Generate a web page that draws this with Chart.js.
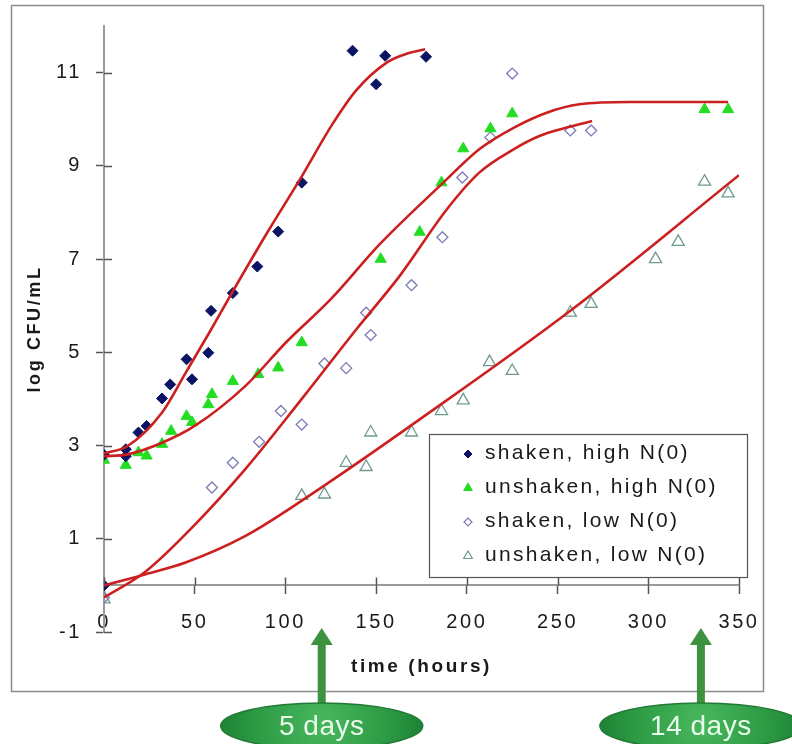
<!DOCTYPE html>
<html>
<head>
<meta charset="utf-8">
<script src="https://cdn.jsdelivr.net/npm/chart.js@4.4.1/dist/chart.umd.min.js"></script>
<style>
  html, body { margin: 0; padding: 0; background: #fff; }
  #myChart { display: block; }
</style>
</head>
<body>
<canvas id="myChart" width="792" height="744"></canvas>
<script>
// measured points, [hours, log CFU/mL]
var shakenHigh = [[0,0],[0,2.8],[12,2.92],[12,2.77],[19,3.28],[23.5,3.42],[32,4.01],[36.5,4.31],[45.5,4.85],[48.5,4.42],[57.5,4.99],[59,5.89],[71,6.27],[84.5,6.84],[96,7.59],[109,8.64],[137,11.47],[150,10.75],[155,11.36],[177.5,11.34]];
var unshakenHigh = [[0,2.69],[12,2.58],[19,2.85],[23.5,2.78],[32,3.03],[37,3.31],[45.5,3.63],[48.5,3.5],[57.5,3.88],[59.5,4.1],[71,4.38],[85,4.53],[96,4.67],[109,5.21],[152.5,7.0],[174,7.58],[186,8.64],[198,9.37],[213,9.8],[225,10.12],[331,10.21],[344,10.21]];
var shakenLow = [[0,-0.26],[59.5,2.1],[71,2.63],[85.5,3.08],[97.5,3.74],[109,3.45],[121.5,4.76],[133.5,4.66],[144.5,5.85],[147,5.37],[169.5,6.44],[186.5,7.47],[197.5,8.75],[213,9.61],[225,10.98],[257,9.76],[268.5,9.76]];
var unshakenLow = [[0,-0.3],[109,1.92],[121.5,1.95],[133.5,2.63],[144.5,2.54],[147,3.28],[169.5,3.28],[186,3.74],[198,3.97],[212.5,4.79],[225,4.6],[257,5.85],[268.5,6.04],[304,7.0],[316.5,7.37],[331,8.66],[344,8.41]];

// fitted growth curves
var fitShakenHigh = [[0,2.83],[13,2.99],[32,3.71],[45,4.56],[58,5.42],[70,6.24],[90,7.57],[108,8.71],[126,9.9],[139,10.62],[156,11.22],[168,11.42],[177,11.5]];
var fitUnshakenHigh = [[0,2.77],[13,2.81],[32,3.06],[50,3.42],[78,4.28],[100,5.2],[125,6.14],[152,7.32],[187,8.64],[207,9.36],[226,9.82],[244,10.14],[262,10.32],[290,10.37],[344,10.37]];
var fitShakenLow = [[0,-0.26],[23,0.3],[50,1.3],[78,2.5],[110,4.05],[139,5.49],[163,6.64],[189,8.07],[207,8.86],[226,9.36],[240,9.64],[255,9.82],[269,9.96]];
var fitUnshakenLow = [[0,0],[23,0.24],[45,0.49],[78,1.06],[121,2.13],[174,3.56],[257,5.89],[350,8.8]];

var seriesLabels = ['shaken, high N(0)', 'unshaken, high N(0)', 'shaken, low N(0)', 'unshaken, low N(0)'];
var xTicks = [0, 50, 100, 150, 200, 250, 300, 350];
var yTicks = [-1, 1, 3, 5, 7, 9, 11];
var arrowHours = [120, 329];
var arrowLabels = ['5 days', '14 days'];

var FONT = '"Liberation Sans", Arial, sans-serif';
var RED = '#cc2020';

function pts(arr) {
    return arr.map(function (p) { return {x: p[0], y: p[1]}; });
}

function fitLine(arr) {
    return {
        data: pts(arr),
        showLine: true,
        borderColor: RED,
        borderWidth: 2.6,
        pointRadius: 0,
        fill: false,
        cubicInterpolationMode: 'monotone'
    };
}

var markers = [
    {style: 'diamond', fill: '#0b1464', stroke: '#0b1464', r: 5.5, lr: 4},
    {style: 'triangle', fill: '#22dd22', stroke: '#22dd22', r: 6.4, lr: 5},
    {style: 'diamond', fill: null, stroke: '#7b7bb8', r: 5.5, lr: 4},
    {style: 'triangle', fill: null, stroke: '#6f9b8e', r: 7, lr: 5}
];

function markerSet(arr, m, label) {
    return {
        label: label,
        data: pts(arr),
        showLine: false,
        pointStyle: m.style == 'diamond' ? 'rectRot' : 'triangle',
        pointRadius: m.r,
        pointBackgroundColor: m.fill || 'rgba(0,0,0,0)',
        pointBorderColor: m.stroke,
        pointBorderWidth: m.fill ? 1 : 1.3
    };
}

function drawMarker(ctx, m, x, y, r) {
    ctx.beginPath();
    if (m.style == 'diamond') {
        ctx.moveTo(x, y - r); ctx.lineTo(x + r, y); ctx.lineTo(x, y + r); ctx.lineTo(x - r, y);
    } else {
        var h = r * 0.866;
        ctx.moveTo(x, y - r); ctx.lineTo(x + h, y + r / 2); ctx.lineTo(x - h, y + r / 2);
    }
    ctx.closePath();
    if (m.fill) { ctx.fillStyle = m.fill; ctx.fill(); }
    ctx.strokeStyle = m.stroke;
    ctx.lineWidth = m.fill ? 1 : 1.2;
    ctx.stroke();
}

var decor = {
    id: 'decor',
    beforeDraw: function (chart) {
        var ctx = chart.ctx;
        ctx.save();
        ctx.fillStyle = '#fff';
        ctx.fillRect(0, 0, chart.width, chart.height);
        ctx.strokeStyle = '#8c8c8c';
        ctx.lineWidth = 1.5;
        ctx.strokeRect(11.5, 5.5, 752, 686);
        ctx.restore();
        ctx.letterSpacing = '2.6px';
    },
    afterDraw: function (chart) {
        var ctx = chart.ctx;
        var xs = chart.scales.x, ys = chart.scales.y;
        var y0 = ys.getPixelForValue(0);
        ctx.save();
        ctx.letterSpacing = '0px';

        // tick marks crossing into the plot
        ctx.strokeStyle = '#555';
        ctx.lineWidth = 1.5;
        ctx.beginPath();
        xTicks.forEach(function (v) {
            var px = Math.round(xs.getPixelForValue(v)) + 0.5;
            ctx.moveTo(px, y0 - 8); ctx.lineTo(px, y0);
        });
        yTicks.forEach(function (v) {
            var py = Math.round(ys.getPixelForValue(v)) + 0.5;
            ctx.moveTo(xs.left, py); ctx.lineTo(xs.left + 8, py);
        });
        ctx.stroke();

        // legend
        var lx = 429, ly = 434, lw = 318, lh = 143;
        ctx.fillStyle = '#fff';
        ctx.fillRect(lx, ly, lw, lh);
        ctx.strokeStyle = '#555';
        ctx.lineWidth = 1.2;
        ctx.strokeRect(lx + 0.5, ly + 0.5, lw, lh);
        ctx.font = '21px ' + FONT;
        ctx.letterSpacing = '2.3px';
        ctx.textBaseline = 'middle';
        ctx.textAlign = 'left';
        seriesLabels.forEach(function (txt, i) {
            var ry = ly + 19 + i * 34;
            drawMarker(ctx, markers[i], 468, ry + 1, markers[i].lr);
            ctx.fillStyle = '#1a1a1a';
            ctx.fillText(txt, 485, ry);
        });

        // arrows with day labels
        ctx.letterSpacing = '0.5px';
        arrowHours.forEach(function (h, i) {
            var px = xs.getPixelForValue(h);
            ctx.fillStyle = '#3d923f';
            ctx.fillRect(px - 4, 642, 8, 66);
            ctx.beginPath();
            ctx.moveTo(px, 628); ctx.lineTo(px + 11, 645); ctx.lineTo(px - 11, 645);
            ctx.closePath();
            ctx.fill();

            var g = ctx.createRadialGradient(px, 722, 10, px, 726, 105);
            g.addColorStop(0, '#44b35a');
            g.addColorStop(0.6, '#2b9a43');
            g.addColorStop(1, '#1d8034');
            ctx.beginPath();
            ctx.ellipse(px, 726, 101, 23, 0, 0, Math.PI * 2);
            ctx.fillStyle = g;
            ctx.fill();
            ctx.strokeStyle = '#237a34';
            ctx.lineWidth = 1.5;
            ctx.stroke();

            ctx.font = '28px ' + FONT;
            ctx.fillStyle = '#e9fbe9';
            ctx.textAlign = 'center';
            ctx.textBaseline = 'middle';
            ctx.fillText(arrowLabels[i], px, 727);
        });
        ctx.restore();
    }
};

var ctx = document.getElementById('myChart').getContext('2d');

var config = {
    type: 'scatter',
    data: {
        datasets: [
            fitLine(fitShakenHigh),
            fitLine(fitUnshakenHigh),
            fitLine(fitShakenLow),
            fitLine(fitUnshakenLow),
            markerSet(shakenHigh, markers[0], seriesLabels[0]),
            markerSet(unshakenHigh, markers[1], seriesLabels[1]),
            markerSet(shakenLow, markers[2], seriesLabels[2]),
            markerSet(unshakenLow, markers[3], seriesLabels[3])
        ]
    },
    options: {
        responsive: false,
        animation: false,
        devicePixelRatio: 1,
        events: [],
        layout: {padding: {left: 11, top: 26, right: 53, bottom: 112}},
        plugins: {legend: {display: false}, tooltip: {enabled: false}},
        scales: {
            x: {
                type: 'linear',
                min: 0,
                max: 350,
                position: {y: 0},
                afterBuildTicks: function (s) { s.ticks = xTicks.map(function (v) { return {value: v}; }); },
                ticks: {color: '#1a1a1a', font: {family: FONT, size: 20}, padding: 17, maxRotation: 0, autoSkip: false},
                grid: {drawOnChartArea: false, drawTicks: true, tickLength: 8, tickColor: '#555', tickWidth: 1.5},
                border: {color: '#9a9a9a', width: 2},
                title: {display: true, text: 'time (hours)', color: '#1a1a1a', font: {family: FONT, size: 19, weight: 'bold'}, padding: {top: 4, bottom: 0}}
            },
            y: {
                type: 'linear',
                min: -1,
                max: 12,
                position: 'left',
                afterBuildTicks: function (s) { s.ticks = yTicks.map(function (v) { return {value: v}; }); },
                afterFit: function (s) { s.width = 93; },
                ticks: {color: '#1a1a1a', font: {family: FONT, size: 20}, padding: 14},
                grid: {drawOnChartArea: false, drawTicks: true, tickLength: 8, tickColor: '#555', tickWidth: 1.5},
                border: {color: '#9a9a9a', width: 2},
                title: {display: true, text: 'log CFU/mL', color: '#1a1a1a', font: {family: FONT, size: 18, weight: 'bold'}, padding: {top: 13, bottom: 0}}
            }
        }
    },
    plugins: [decor]
};

var myChart = new Chart(ctx, config);
</script>
</body>
</html>
